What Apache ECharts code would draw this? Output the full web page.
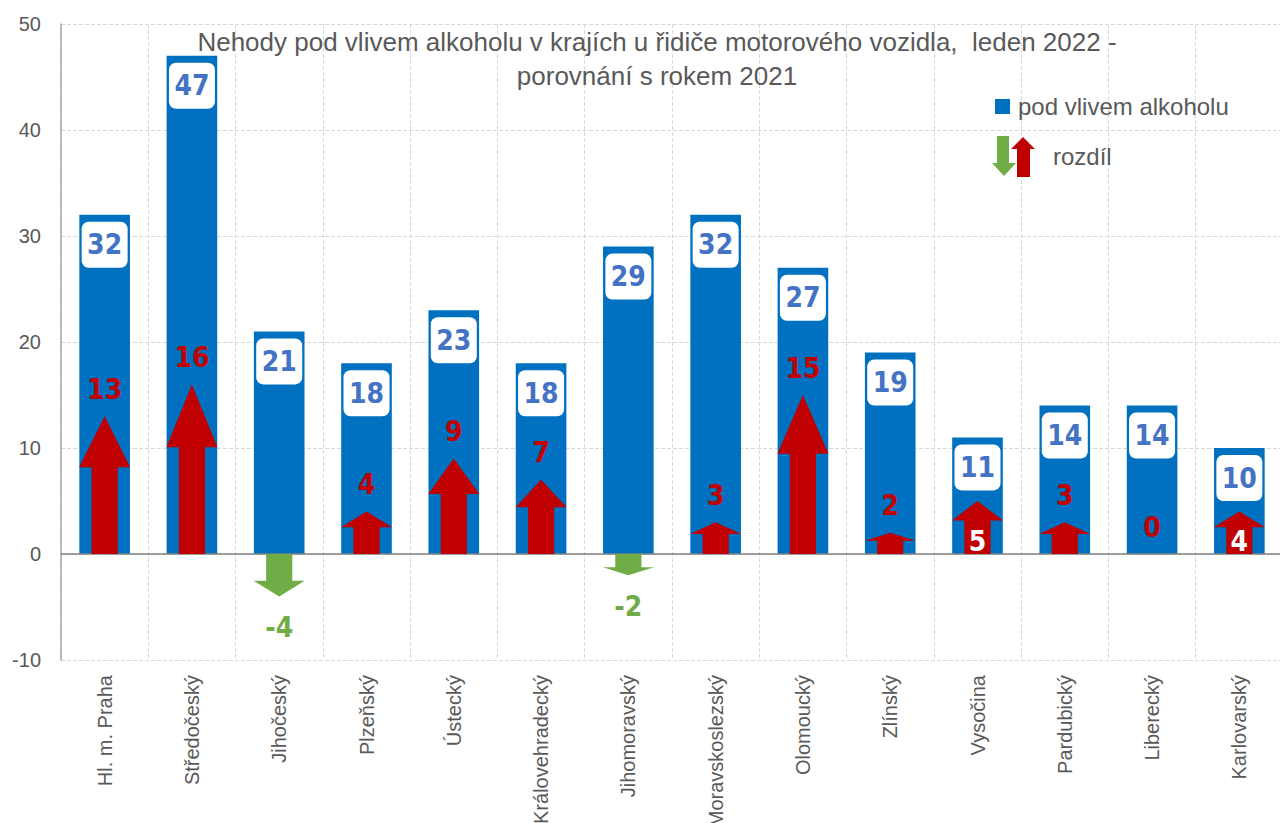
<!DOCTYPE html>
<html>
<head>
<meta charset="utf-8">
<script src="https://cdn.jsdelivr.net/npm/echarts@6/dist/echarts.min.js"></script>
<style>
html,body{margin:0;padding:0;background:#fff;}
#chart{width:1280px;height:823px;}
</style>
</head>
<body>
<div id="chart"></div>
<script>
const categories = ['Hl. m. Praha','Středočeský','Jihočeský','Plzeňský','Ústecký','Královehradecký','Jihomoravský','Moravskoslezský','Olomoucký','Zlínský','Vysočina','Pardubický','Liberecký','Karlovarský'];
const alcoholAccidents = [32,47,21,18,23,18,29,32,27,19,11,14,14,10];
const differenceVs2021 = [13,16,-4,4,9,7,-2,3,15,2,5,3,0,4];
const titleLines = ['Nehody pod vlivem alkoholu v krajích u řidiče motorového vozidla,  leden 2022 -','porovnání s rokem 2021'];
const seriesNames = ['pod vlivem alkoholu','rozdíl'];

const BLUE = '#0070C0', RED = '#C00000', GREEN = '#70AD47', GREY = '#595959';
const NARROW = '"Liberation Sans Narrow","Arial Narrow","DejaVu Sans Condensed",sans-serif';
const SANS = '"Liberation Sans",Arial,sans-serif';
const insideLabelIdx = [10, 13]; // labels drawn in white inside the arrow

const chart = echarts.init(document.getElementById('chart'), null, {renderer:'svg', width:1280, height:823});

function renderArrow(params, api) {
  const i = api.value(0), d = api.value(1);
  const base = api.coord([i, 0]);
  const tip = api.coord([i, d]);
  const catW = api.size([1, 0])[0];
  const headW = catW * 0.585, shaftW = catW * 0.3;
  const cx = base[0];
  const children = [];
  const len = tip[1] - base[1];
  if (d !== 0) {
    const headH = Math.abs(len) * 0.37;
    const dir = len < 0 ? -1 : 1;
    const hb = tip[1] - dir * headH;
    children.push({
      type: 'polygon',
      shape: {points: [
        [cx - shaftW/2, base[1]], [cx - shaftW/2, hb], [cx - headW/2, hb],
        [cx, tip[1]], [cx + headW/2, hb], [cx + shaftW/2, hb], [cx + shaftW/2, base[1]]
      ]},
      style: {fill: d > 0 ? RED : GREEN}
    });
  }
  let ly, fill;
  if (insideLabelIdx.indexOf(i) >= 0) { ly = base[1] - 13; fill = '#fff'; }
  else if (d >= 0) { ly = tip[1] - 27; fill = RED; }
  else { ly = tip[1] + 31; fill = GREEN; }
  children.push({
    type: 'text',
    style: {text: String(d), x: cx, y: ly, align: 'center', verticalAlign: 'middle',
      fill: fill, font: 'bold 28px ' + NARROW}
  });
  return {type: 'group', children: children};
}

const option = {
  backgroundColor: '#fff',
  animation: false,
  title: {
    text: titleLines.join('\n'),
    left: 652, top: 20, textAlign: 'center',
    textStyle: {fontFamily: SANS, fontSize: 26, fontWeight: 'normal', color: GREY, lineHeight: 34}
  },
  legend: [
    {
      data: [{name: seriesNames[0], icon: 'rect'}],
      left: 995, top: 94.5, padding: 0, itemWidth: 15, itemHeight: 15,
      textStyle: {fontFamily: SANS, fontSize: 24, color: GREY, lineHeight: 24, padding: [0,0,0,3]}
    },
    {
      data: [{name: seriesNames[1], icon: 'rect', itemStyle: {opacity: 0}}],
      left: 992, top: 136, padding: 0, itemWidth: 56, itemHeight: 40,
      textStyle: {fontFamily: SANS, fontSize: 24, color: GREY, lineHeight: 24, padding: [6,0,0,0]}
    }
  ],
  graphic: [
    {type: 'polygon', silent: true, z: 100, shape: {points: [[997,136],[1009,136],[1009,163],[1016,163],[1004,176],[992,163],[997,163]]}, style: {fill: GREEN}},
    {type: 'polygon', silent: true, z: 100, shape: {points: [[1017,177],[1017,149],[1011,149],[1023,137],[1035,149],[1030,149],[1030,177]]}, style: {fill: RED}}
  ],
  grid: {left: 61, top: 24, width: 1222, height: 636, containLabel: false, outerBoundsMode: 'none'},
  xAxis: {
    type: 'category', data: categories,
    axisLine: {show: false, onZero: false},
    axisTick: {show: false},
    splitLine: {show: true, interval: 0, lineStyle: {type: 'dashed', color: '#D9D9D9', width: 1}},
    axisLabel: {interval: 0, rotate: 90, margin: 15, fontFamily: SANS, fontSize: 20, color: GREY}
  },
  yAxis: {
    type: 'value', min: -10, max: 50, interval: 10,
    axisLine: {show: true, lineStyle: {color: '#A6A6A6', width: 1.5}},
    axisTick: {show: false},
    splitLine: {lineStyle: {type: 'dashed', color: '#D9D9D9', width: 1}},
    axisLabel: {margin: 20, fontFamily: SANS, fontSize: 20, color: GREY}
  },
  series: [
    {
      name: seriesNames[0], type: 'bar', data: alcoholAccidents, barWidth: '58%',
      itemStyle: {color: BLUE},
      z: 2,
      label: {
        show: true, position: 'insideTop', distance: 7,
        backgroundColor: '#fff', borderRadius: 7, width: 46, height: 46, lineHeight: 46,
        align: 'center',
        fontFamily: NARROW, fontWeight: 'bold', fontSize: 28, color: '#4472C4'
      },
      markLine: {
        silent: true, symbol: 'none', label: {show: false},
        lineStyle: {color: '#808080', type: 'solid', width: 1.5},
        data: [{yAxis: 0}]
      }
    },
    {
      name: seriesNames[1], type: 'custom', z: 5,
      itemStyle: {color: RED},
      renderItem: renderArrow,
      encode: {x: 0, y: 1},
      data: differenceVs2021.map((v, i) => [i, v])
    }
  ]
};
chart.setOption(option);
</script>
</body>
</html>
